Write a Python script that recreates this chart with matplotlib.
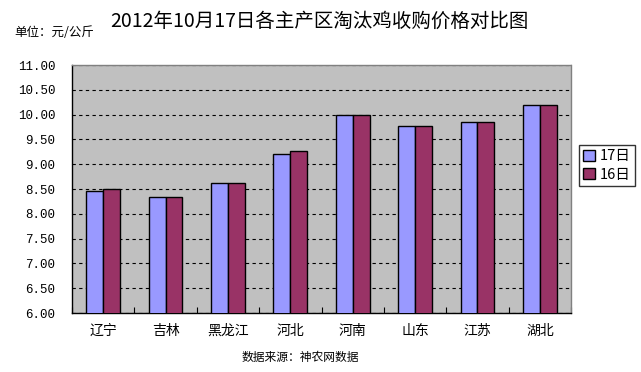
import numpy as np
import matplotlib
matplotlib.use("Agg")
import matplotlib.pyplot as plt

plt.rcParams['font.family'] = ['Noto Sans CJK SC', 'DejaVu Sans']

provinces = ["辽宁", "吉林", "黑龙江", "河北", "河南", "山东", "江苏", "湖北"]
price_17 = [8.46, 8.33, 8.63, 9.20, 10.00, 9.78, 9.86, 10.19]
price_16 = [8.51, 8.33, 8.63, 9.26, 10.00, 9.78, 9.86, 10.19]
series_names = ["17日", "16日"]
y_ticks = [6.0, 6.5, 7.0, 7.5, 8.0, 8.5, 9.0, 9.5, 10.0, 10.5, 11.0]

fig = plt.figure(figsize=(6.41, 3.72), dpi=100)
ax = fig.add_axes([72 / 641, 1 - 313 / 372, (571 - 72) / 641, (313 - 65) / 372])
ax.set_facecolor("#C0C0C0")

x = np.arange(len(provinces))
w = 0.27
ax.bar(x - w / 2, price_17, w, color="#9999FF", edgecolor="black", linewidth=1,
       label=series_names[0], zorder=3)
ax.bar(x + w / 2, price_16, w, color="#993366", edgecolor="black", linewidth=1,
       label=series_names[1], zorder=3)

ax.set_xlim(-0.5, len(provinces) - 0.5)
ax.set_ylim(6, 11)
ax.set_yticks(y_ticks)
ax.set_yticklabels([f"{v:.2f}" for v in y_ticks], family="Liberation Mono", fontsize=9)
ax.yaxis.grid(True, color="black", linestyle=(0, (3, 3)), linewidth=0.8, zorder=1)
ax.tick_params(axis="y", length=0, pad=12)

ax.set_xticks(x)
ax.set_xticklabels(provinces, fontsize=10)
ax.set_xticks(np.arange(len(provinces) + 1) - 0.5, minor=True)
ax.tick_params(axis="x", which="major", length=0, pad=8)
ax.tick_params(axis="x", which="minor", direction="in", length=4, width=0.8)

for side in ["left", "bottom"]:
    ax.spines[side].set_color("black")
    ax.spines[side].set_linewidth(1)
for side in ["top", "right"]:
    ax.spines[side].set_color("#808080")
    ax.spines[side].set_linestyle((0, (1, 1)))
    ax.spines[side].set_linewidth(1)

leg = fig.legend(loc="upper left", bbox_to_anchor=(579 / 641, 1 - 145 / 372),
                 fontsize=10.5, frameon=True, fancybox=False, edgecolor="black",
                 handlelength=0.8, handleheight=0.8, handletextpad=0.3,
                 borderpad=0.3, labelspacing=0.3, borderaxespad=0)
leg.get_frame().set_linewidth(1)

fig.text(319 / 641, 1 - 21 / 372, "2012年10月17日各主产区淘汰鸡收购价格对比图",
         ha="center", va="center", fontsize=14)
fig.text(14 / 641, 1 - 33 / 372, "单位：元/公斤", ha="left", va="center", fontsize=9)
fig.text(300 / 641, 1 - 357 / 372, "数据来源：神农网数据", ha="center", va="center", fontsize=8.5)

fig.savefig("out.png", dpi=100, facecolor="white")
